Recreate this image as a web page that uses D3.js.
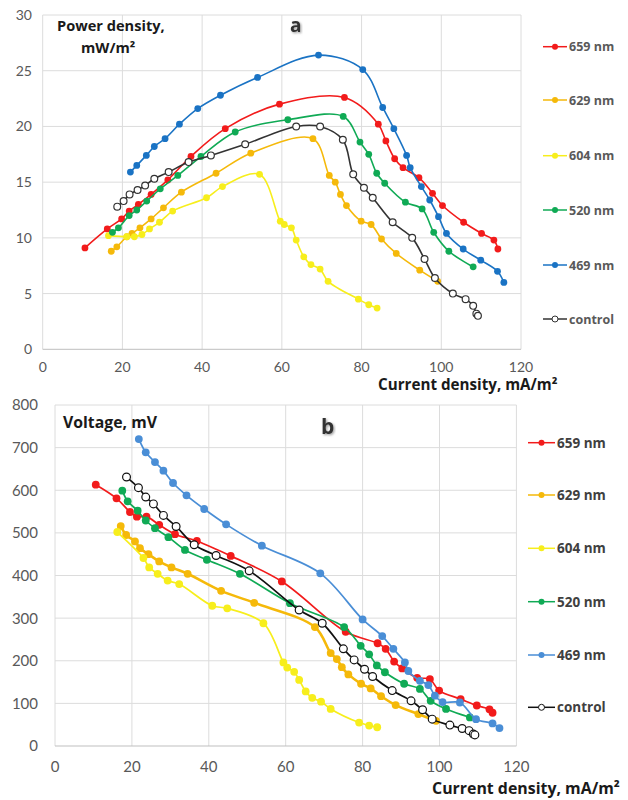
<!DOCTYPE html>
<html>
<head>
<meta charset="utf-8">
<script src="https://cdn.jsdelivr.net/npm/d3@7"></script>
<style>
  body { margin: 0; background: #fff; }
  text { font-family: Lato, "Open Sans", sans-serif; }
  .bold { font-family: "Open Sans", sans-serif; font-weight: bold; }
</style>
</head>
<body>
<div id="chart"></div>
<script>
// series labels and colours
var labels = ["659 nm", "629 nm", "604 nm", "520 nm", "469 nm", "control"];
var colorsA = ["#f21b1b", "#f5b90a", "#f7ee1c", "#10aa55", "#1a73c4", "#333333"];
var colorsB = ["#f21b1b", "#f5b90a", "#f7ee1c", "#10aa55", "#4a8ed6", "#111111"];

var xTicks = [0, 20, 40, 60, 80, 100, 120];
var yTicksA = [0, 5, 10, 15, 20, 25, 30];
var yTicksB = [0, 100, 200, 300, 400, 500, 600, 700, 800];

// panel a: [current density, power density]
var pow659 = [[10.6,9.1],[16.2,10.8],[19.8,11.7],[21.7,12.4],[24.0,13.0],[27.2,13.9],[31.4,15.2],[37.2,17.3],[45.8,19.8],[59.4,22.0],[75.7,22.6],[84.2,20.2],[86.1,18.7],[88.3,17.1],[90.4,16.3],[94.4,15.4],[97.8,14.0],[100.3,12.9],[105.6,11.4],[110.1,10.4],[113.2,9.8],[114.2,9.0]];
var pow629 = [[17.2,8.8],[18.6,9.2],[21.1,10.1],[22.4,10.4],[24.4,10.9],[27.2,11.7],[30.3,12.7],[34.8,14.1],[43.5,15.8],[52.2,17.6],[67.8,18.9],[71.9,15.6],[73.4,15.0],[74.7,13.9],[76.2,12.9],[79.9,11.5],[82.4,11.2],[85.0,9.9],[88.7,8.6],[94.6,7.1],[99.1,6.1]];
var pow604 = [[16.5,10.2],[21.1,10.1],[23.0,10.1],[24.9,10.3],[26.8,10.8],[29.3,11.4],[32.6,12.4],[41.1,13.6],[45.1,14.6],[54.4,15.7],[59.6,11.5],[60.6,11.2],[62.4,10.9],[63.6,9.8],[65.5,8.3],[67.3,7.6],[69.6,7.2],[71.6,6.1],[79.2,4.5],[81.8,4.0],[83.9,3.7]];
var pow520 = [[17.5,10.5],[19.0,10.9],[21.7,12.0],[23.6,12.5],[26.1,13.3],[29.5,14.4],[33.9,15.6],[39.7,17.3],[48.3,19.5],[61.5,20.6],[75.4,20.9],[79.6,18.6],[81.8,17.5],[83.8,15.8],[85.8,14.9],[91.0,13.2],[95.2,12.6],[98.1,10.5],[101.9,8.8],[108.0,7.4]];
var pow469 = [[22.0,15.9],[23.6,16.5],[26.0,17.4],[28.0,18.2],[30.7,18.9],[34.3,20.2],[38.9,21.6],[44.6,22.8],[53.9,24.4],[69.2,26.4],[80.3,25.1],[85.3,21.7],[88.1,19.8],[91.3,17.4],[92.2,16.3],[95.0,14.6],[97.1,13.4],[99.3,11.9],[101.3,10.4],[105.5,9.0],[109.9,8.0],[114.1,7.0],[115.7,6.0]];
var powCtrl = [[18.7,12.8],[20.3,13.3],[21.8,13.9],[23.8,14.3],[25.7,14.7],[28.0,15.3],[31.6,15.9],[36.6,16.8],[42.2,17.4],[50.8,18.4],[63.6,20.0],[69.6,20.0],[75.3,18.8],[77.9,15.7],[80.6,14.5],[82.8,13.6],[87.8,11.4],[92.7,10.0],[95.8,8.1],[98.4,6.4],[102.9,5.0],[106.1,4.5],[108.0,3.9],[108.8,3.2],[109.2,3.0]];

// panel b: [current density, voltage]
var volt659 = [[10.6,613],[16.0,581],[19.5,549],[21.3,538],[23.8,538],[27.1,519],[31.2,497],[36.9,481],[45.7,446],[59.0,386],[75.6,268],[83.9,241],[86.0,228],[88.2,198],[90.3,182],[94.2,160],[97.5,157],[99.9,130],[105.5,110],[109.7,95],[113.0,86],[113.8,78]];
var volt629 = [[17.1,516],[18.5,495],[20.8,480],[22.1,464],[24.3,450],[27.1,433],[30.3,419],[34.5,404],[43.2,364],[51.8,336],[67.6,279],[71.7,218],[73.3,204],[74.6,185],[76.3,168],[79.6,146],[82.1,135],[84.8,117],[88.6,96],[94.5,75],[99.1,59]];
var volt604 = [[16.2,502],[23.0,441],[24.5,419],[26.7,404],[29.3,388],[32.3,380],[40.9,329],[44.8,323],[54.2,288],[59.4,196],[60.4,184],[62.2,174],[63.5,155],[65.2,128],[66.9,113],[69.2,104],[71.7,87],[79.1,55],[81.7,48],[83.8,44]];
var volt520 = [[17.5,599],[18.9,574],[21.5,552],[23.6,529],[26.0,511],[29.5,490],[33.8,460],[39.5,437],[48.1,404],[61.1,335],[75.2,279],[79.5,235],[81.7,215],[83.7,189],[85.8,173],[90.8,146],[94.9,134],[97.7,106],[101.7,87],[107.9,67]];
var volt469 = [[21.8,720],[23.6,689],[26.0,666],[28.2,646],[30.7,617],[34.2,588],[38.8,556],[44.5,520],[53.8,470],[69.0,405],[80.0,297],[85.1,258],[88.0,228],[91.0,196],[91.9,176],[94.9,153],[97.1,143],[98.8,118],[100.8,103],[105.3,102],[109.5,63],[113.8,53],[115.6,42]];
var voltCtrl = [[18.6,631],[21.7,606],[23.6,584],[25.6,568],[28.2,541],[31.5,515],[36.2,472],[41.9,447],[50.5,411],[63.5,319],[69.5,288],[75.0,228],[77.8,202],[80.5,180],[82.6,163],[87.7,130],[92.6,106],[95.6,85],[98.1,63],[102.7,49],[105.9,41],[107.7,36],[108.8,28],[109.2,26]];

var seriesA = [pow659, pow629, pow604, pow520, pow469, powCtrl];
var seriesB = [volt659, volt629, volt604, volt520, volt469, voltCtrl];

var svg = d3.select("#chart").append("svg")
  .attr("width", 628)
  .attr("height", 800);

var defs = svg.append("defs");
defs.append("filter").attr("id", "shadow")
  .append("feDropShadow")
  .attr("dx", 1.2).attr("dy", 1.2).attr("stdDeviation", 1)
  .attr("flood-color", "#888").attr("flood-opacity", 0.8);

var drawPanel = function(cfg) {
  var x = d3.scaleLinear().domain([0, 120]).range([cfg.left, cfg.right]);
  var y = d3.scaleLinear().domain(cfg.yDomain).range([cfg.bottom, cfg.top]);
  var g = svg.append("g");

  // grid
  g.selectAll(".vgrid").data(xTicks).enter().append("line")
    .attr("x1", d => x(d)).attr("x2", d => x(d))
    .attr("y1", cfg.top).attr("y2", cfg.bottom)
    .attr("stroke", "#dcdcdc").attr("stroke-width", 1);
  g.selectAll(".hgrid").data(cfg.yTicks).enter().append("line")
    .attr("x1", cfg.left).attr("x2", cfg.right)
    .attr("y1", d => y(d)).attr("y2", d => y(d))
    .attr("stroke", d => d === 0 ? "#bfbfbf" : "#dcdcdc").attr("stroke-width", 1);

  // tick labels
  g.selectAll(".xlab").data(xTicks).enter().append("text")
    .attr("x", d => x(d)).attr("y", cfg.xLabelY)
    .attr("text-anchor", "middle")
    .attr("font-size", cfg.tickSize).attr("fill", "#595959")
    .text(d => d);
  g.selectAll(".ylab").data(cfg.yTicks).enter().append("text")
    .attr("x", cfg.yLabelX).attr("y", d => y(d) + cfg.tickSize * 0.36)
    .attr("text-anchor", "end")
    .attr("font-size", cfg.tickSize).attr("fill", "#595959")
    .text(d => d);

  // lines and markers
  var line = d3.line()
    .x(d => x(d[0])).y(d => y(d[1]))
    .curve(d3.curveCatmullRom.alpha(0.5));

  cfg.series.forEach(function(data, i) {
    var col = cfg.colors[i];
    var isCtrl = i === 5;
    g.append("path").datum(data)
      .attr("d", line)
      .attr("fill", "none")
      .attr("stroke", col)
      .attr("stroke-width", (cfg.wide && i === 1) ? 2.6 : cfg.lineWidth);
    g.selectAll(".pt" + i).data(data).enter().append("circle")
      .attr("cx", d => x(d[0])).attr("cy", d => y(d[1]))
      .attr("r", cfg.r)
      .attr("fill", isCtrl ? "#fff" : col)
      .attr("stroke", isCtrl ? col : "none")
      .attr("stroke-width", 1.2);
  });

  // legend
  var leg = g.selectAll(".leg").data(labels).enter().append("g")
    .attr("transform", (d, i) => "translate(0," + cfg.legY[i] + ")");
  leg.append("line")
    .attr("x1", cfg.legX0).attr("x2", cfg.legX1)
    .attr("stroke", (d, i) => cfg.colors[i]).attr("stroke-width", 1.5);
  leg.append("circle")
    .attr("cx", (cfg.legX0 + cfg.legX1) / 2).attr("r", 3)
    .attr("fill", (d, i) => i === 5 ? "#fff" : cfg.colors[i])
    .attr("stroke", (d, i) => i === 5 ? cfg.colors[i] : "none");
  leg.append("text")
    .attr("class", "bold")
    .attr("x", cfg.legX1 + 2).attr("y", cfg.legSize * 0.36)
    .attr("font-size", cfg.legSize)
    .attr("fill", cfg.legColor)
    .text(d => d);
};

drawPanel({
  left: 42.7, right: 521, top: 15, bottom: 349.3,
  yDomain: [0, 30], yTicks: yTicksA,
  xLabelY: 372, yLabelX: 32, tickSize: 14,
  series: seriesA, colors: colorsA, lineWidth: 1.6, r: 3.4, wide: false,
  legY: [46.7, 100, 155.7, 210, 265, 319], legX0: 543, legX1: 567,
  legSize: 12.5, legColor: "#595959"
});

drawPanel({
  left: 55, right: 516.4, top: 405, bottom: 746,
  yDomain: [0, 800], yTicks: yTicksB,
  xLabelY: 772, yLabelX: 38, tickSize: 15,
  series: seriesB, colors: colorsB, lineWidth: 1.7, r: 3.9, wide: true,
  legY: [442.7, 495, 548.3, 601.7, 655, 707.3], legX0: 528, legX1: 555,
  legSize: 13.5, legColor: "#404040"
});

// titles
svg.append("text").attr("class", "bold").attr("x", 57).attr("y", 31)
  .attr("font-size", 14.6).attr("fill", "#1a1a1a")
  .text("Power density,");
svg.append("text").attr("class", "bold").attr("x", 81).attr("y", 53)
  .attr("font-size", 14.6).attr("fill", "#1a1a1a")
  .text("mW/m²");
svg.append("text").attr("class", "bold").attr("x", 290).attr("y", 32)
  .attr("font-size", 19).attr("fill", "#333")
  .attr("filter", "url(#shadow)")
  .text("a");
svg.append("text").attr("class", "bold").attr("x", 378).attr("y", 390)
  .attr("font-size", 15.2).attr("fill", "#1a1a1a")
  .text("Current density, mA/m²");

svg.append("text").attr("class", "bold").attr("x", 63).attr("y", 428)
  .attr("font-size", 15.8).attr("fill", "#1a1a1a")
  .text("Voltage, mV");
svg.append("text").attr("class", "bold").attr("x", 321).attr("y", 434)
  .attr("font-size", 21).attr("fill", "#333")
  .attr("filter", "url(#shadow)")
  .text("b");
svg.append("text").attr("class", "bold").attr("x", 432).attr("y", 794)
  .attr("font-size", 15.9).attr("fill", "#1a1a1a")
  .text("Current density, mA/m²");
</script>
</body>
</html>
